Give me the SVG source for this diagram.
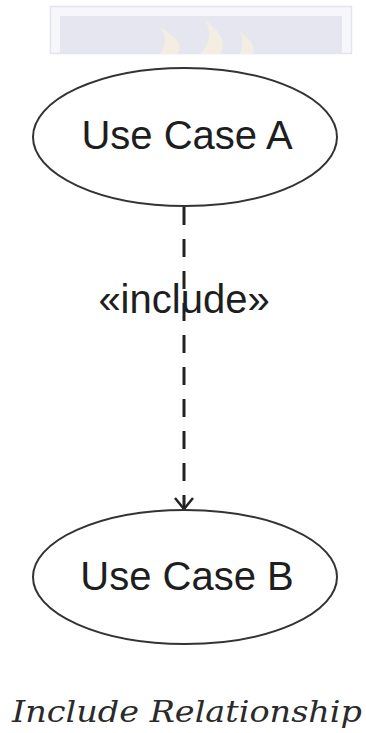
<svg xmlns="http://www.w3.org/2000/svg" width="366" height="733" viewBox="0 0 366 733">
<style>
.uc{fill:#fff;stroke:#333;stroke-width:2}
.lbl{font-family:"Liberation Sans",Arial,sans-serif;font-size:40px;fill:#1e1e1e;text-anchor:middle}
.dep{stroke:#222;stroke-width:3;fill:none}
</style>
<defs>
<marker id="open" markerWidth="24" markerHeight="24" refX="12" refY="12" orient="auto" markerUnits="userSpaceOnUse">
<path d="M1,3 L12,12 L1,21" fill="none" stroke="#222" stroke-width="2.5"/>
</marker>
</defs>
<rect width="366" height="733" fill="#fff"/>
<g id="banner">
<rect x="50.5" y="6.5" width="301" height="47" fill="#f6f6fb" stroke="#e4e4f0" stroke-width="1.5"/>
<rect x="60" y="16" width="282" height="38" fill="#e6e6f0"/>
<path d="M160,54 Q170,40 160,28 Q185,40 178,54 Z" fill="#fbf1d8" opacity="0.6"/>
<path d="M200,54 Q215,38 205,20 Q230,38 220,54 Z" fill="#fbf1d8" opacity="0.6"/>
<path d="M240,54 Q245,42 240,32 Q258,44 252,54 Z" fill="#fbf1d8" opacity="0.6"/>
</g>
<g id="connectors">
<line class="dep" x1="184" y1="207" x2="184" y2="509" stroke-dasharray="18 14" marker-end="url(#open)"/>
<text x="184" y="313" class="lbl">«include»</text>
</g>
<g id="useCaseA">
<ellipse class="uc" cx="185" cy="137" rx="152" ry="69"/>
<text x="187" y="149" class="lbl">Use Case A</text>
</g>
<g id="useCaseB">
<ellipse class="uc" cx="185" cy="577" rx="152" ry="67"/>
<text x="187" y="590" class="lbl">Use Case B</text>
</g>
<g id="caption">
<text x="12" y="722" font-family="'DejaVu Serif','Liberation Serif',serif" font-style="italic" font-size="30" fill="#2a2a2a" textLength="350" lengthAdjust="spacingAndGlyphs">Include Relationship</text>
</g>
</svg>
